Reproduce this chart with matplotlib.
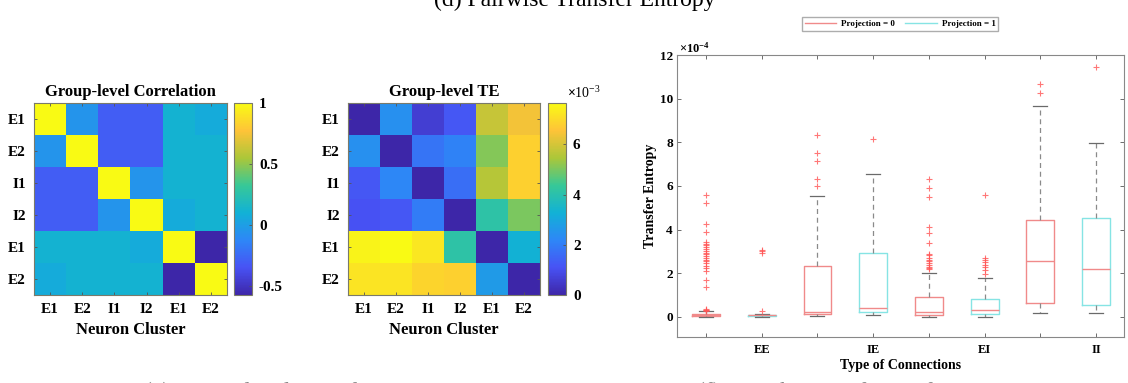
import matplotlib
matplotlib.use("Agg")
import matplotlib.pyplot as plt
import numpy as np
from matplotlib.colors import LinearSegmentedColormap
from matplotlib.lines import Line2D

plt.rcParams['font.family'] = ['Liberation Serif', 'DejaVu Serif']
plt.rcParams['font.weight'] = 'bold'
plt.rcParams['mathtext.fontset'] = 'custom'
plt.rcParams['mathtext.rm'] = 'Liberation Serif'

# ---- data ----
clusters = ['E1', 'E2', 'I1', 'I2', 'E1', 'E2']

corr = [
    [1.00, -0.05, -0.30, -0.30, 0.12, 0.07],
    [-0.05, 1.00, -0.30, -0.30, 0.12, 0.12],
    [-0.30, -0.30, 1.00, -0.05, 0.12, 0.12],
    [-0.30, -0.30, -0.05, 1.00, 0.07, 0.12],
    [0.12, 0.12, 0.12, 0.07, 1.00, -0.57],
    [0.07, 0.12, 0.12, 0.12, -0.57, 1.00],
]

# group-level TE, in units of 1e-3
te = [
    [0.00, 2.45, 0.60, 1.20, 5.80, 6.40],
    [2.45, 0.00, 1.80, 2.10, 5.10, 6.80],
    [1.20, 2.20, 0.00, 1.70, 5.60, 6.80],
    [1.10, 1.20, 2.00, 0.00, 4.10, 5.00],
    [7.50, 7.65, 7.25, 4.10, 0.00, 3.30],
    [7.20, 7.20, 6.90, 6.80, 2.70, 0.00],
]

# box statistics, in units of 1e-4 (odd boxes: Projection = 0, even: Projection = 1)
conn_labels = ['', 'EE', '', 'IE', '', 'EI', '', 'II']
q1 = [0.04, 0.03, 0.14, 0.21, 0.09, 0.12, 0.63, 0.54]
med = [0.08, 0.07, 0.24, 0.40, 0.22, 0.31, 2.57, 2.18]
q3 = [0.14, 0.11, 2.33, 2.94, 0.91, 0.83, 4.46, 4.55]
wlo = [0.00, 0.00, 0.03, 0.09, 0.00, 0.00, 0.17, 0.20]
whi = [0.25, 0.15, 5.56, 6.54, 2.03, 1.80, 9.66, 7.97]
fliers = [
    [5.60, 5.22, 4.25, 3.88, 3.42, 3.35, 3.28, 3.20, 3.10, 3.02, 2.95, 2.88,
     2.78, 2.70, 2.62, 2.55, 2.45, 2.35, 2.25, 2.12, 1.68, 1.38, 0.35, 0.32,
     0.30, 0.28],
    [3.08, 3.00, 2.95, 0.25],
    [8.32, 7.50, 7.15, 6.30, 6.00],
    [8.15],
    [6.31, 5.92, 5.50, 4.12, 3.83, 3.40, 2.90, 2.82, 2.70, 2.63, 2.55, 2.48,
     2.40, 2.29, 2.25, 2.20],
    [5.58, 2.68, 2.60, 2.50, 2.40, 2.29, 2.17, 1.98],
    [10.69, 10.25],
    [11.45],
]
series_names = ['Projection = 0', 'Projection = 1']

# ---- parula-like colormap ----
parula = LinearSegmentedColormap.from_list('parula', [
    (0.2422, 0.1504, 0.6603), (0.2810, 0.3228, 0.9579),
    (0.1786, 0.5289, 0.9682), (0.0689, 0.6948, 0.8394),
    (0.2161, 0.7843, 0.5923), (0.6720, 0.7793, 0.2227),
    (0.9970, 0.7659, 0.2199), (0.9769, 0.9839, 0.0805)])

W, H = 1128, 383
fig = plt.figure(figsize=(W / 100, H / 100), dpi=100)


def px(l, t, r, b):
    return [l / W, 1 - b / H, (r - l) / W, (b - t) / H]


edge = '#7a7a6a'


def heatmap(rect, crect, data, vmin, vmax, title, cticks, cticklabels):
    ax = fig.add_axes(px(*rect))
    n = len(data)
    im = ax.imshow(np.array(data), cmap=parula, vmin=vmin, vmax=vmax,
                   aspect='auto', interpolation='nearest',
                   extent=(0.5, n + 0.5, n + 0.5, 0.5))
    ax.set_xticks(range(1, n + 1))
    ax.set_yticks(range(1, n + 1))
    ax.set_xticklabels(clusters, fontsize=11, fontweight='bold')
    ax.set_yticklabels(clusters, fontsize=11, fontweight='bold')
    ax.tick_params(direction='in', length=2.5, width=0.6, color='#555555',
                   top=True, right=True, pad=6)
    for s in ax.spines.values():
        s.set_color(edge)
        s.set_linewidth(0.8)
    ax.set_title(title, fontsize=12, fontweight='bold', pad=5)
    ax.set_xlabel('Neuron Cluster', fontsize=12, fontweight='bold', labelpad=4)
    cax = fig.add_axes(px(*crect))
    cb = fig.colorbar(im, cax=cax)
    cb.set_ticks(cticks)
    cb.set_ticklabels(cticklabels)
    cax.tick_params(direction='in', length=2.5, width=0.6, labelsize=11,
                    color='#555555', pad=5)
    for lbl in cax.get_yticklabels():
        lbl.set_fontweight('bold')
    cb.outline.set_edgecolor(edge)
    cb.outline.set_linewidth(0.8)
    return ax, cax


heatmap((34, 103, 227, 295), (234, 103, 252, 295), corr, -0.575, 1.0,
        'Group-level Correlation', [-0.5, 0, 0.5, 1], ['-0.5', '0', '0.5', '1'])
ax2, cax2 = heatmap((348, 103, 540, 295), (548, 103, 566, 295), te, 0.0, 7.65,
                    'Group-level TE', [0, 2, 4, 6], ['0', '2', '4', '6'])
fig.text(567 / W, 1 - 93 / H, r'$\times\mathregular{10^{-3}}$', fontsize=10,
         fontweight='normal', va='center', ha='left')

# ---- box plot ----
red = '#f08a8a'
cyan = '#86e4e4'
bx = fig.add_axes(px(677, 55, 1124, 337))
stats = []
for i in range(len(q1)):
    stats.append(dict(q1=q1[i], med=med[i], q3=q3[i], whislo=wlo[i],
                      whishi=whi[i], fliers=fliers[i]))
positions = list(range(1, len(q1) + 1))
res = bx.bxp(stats, positions=positions, widths=0.5, showfliers=True,
             manage_ticks=False, patch_artist=False)
for i, b in enumerate(res['boxes']):
    b.set_color(red if i % 2 == 0 else cyan)
    b.set_linewidth(1.0)
for m in res['medians']:
    m.set_color(red)
    m.set_linewidth(1.0)
for w in res['whiskers']:
    w.set_color('#8a8a8a')
    w.set_linestyle((0, (4, 3)))
    w.set_linewidth(0.9)
for c in res['caps']:
    c.set_color('#6a6a6a')
    c.set_linewidth(0.9)
for f in res['fliers']:
    f.set_marker('+')
    f.set_markeredgecolor('#ff5555')
    f.set_markersize(5)
    f.set_markeredgewidth(0.8)
    f.set_alpha(0.8)

bx.set_xlim(0.48, 8.5)
bx.set_ylim(-0.92, 12)
bx.set_xticks(positions)
bx.set_xticklabels(conn_labels, fontsize=9, fontweight='bold')
bx.set_yticks(range(0, 13, 2))
bx.set_yticklabels([str(v) for v in range(0, 13, 2)], fontsize=9.5,
                   fontweight='bold')
bx.tick_params(direction='in', length=3, width=0.6, color='#555555',
               top=True, right=True)
bx.tick_params(axis='y', pad=3)
bx.tick_params(axis='x', pad=5)
for s in bx.spines.values():
    s.set_color('#888888')
    s.set_linewidth(0.8)
bx.set_xlabel('Type of Connections', fontsize=10, fontweight='bold', labelpad=2)
bx.set_ylabel('Transfer Entropy', fontsize=10, fontweight='bold', labelpad=2)
fig.text(679 / W, 1 - 48 / H, r'$\times\mathregular{10^{-4}}$', fontsize=9,
         va='center', ha='left')

handles = [Line2D([], [], color=red, lw=1.0), Line2D([], [], color=cyan, lw=1.0)]
fig.legend(handles, series_names, loc='center', bbox_to_anchor=(900 / W, 1 - 24 / H),
           ncol=2, prop={'weight': 'bold', 'size': 6.5},
           frameon=True, fancybox=False, edgecolor='#999999', handlelength=3.5,
           borderpad=0.3, columnspacing=1.2, handletextpad=0.5)

# figure captions
fig.text(575 / W, 1 - 6 / H, '(d) Pairwise Transfer Entropy', fontsize=17,
         fontweight='normal', ha='center', va='baseline')
fig.text(300 / W, 1 - 398 / H, '(e) Group-level Transfer Entropy', fontsize=17,
         fontweight='normal', ha='center', va='baseline', color='#888888')
fig.text(865 / W, 1 - 398 / H, '(f) Distribution of Transfer Entropy', fontsize=17,
         fontweight='normal', ha='center', va='baseline', color='#888888')

fig.savefig('out.png', dpi=100)
